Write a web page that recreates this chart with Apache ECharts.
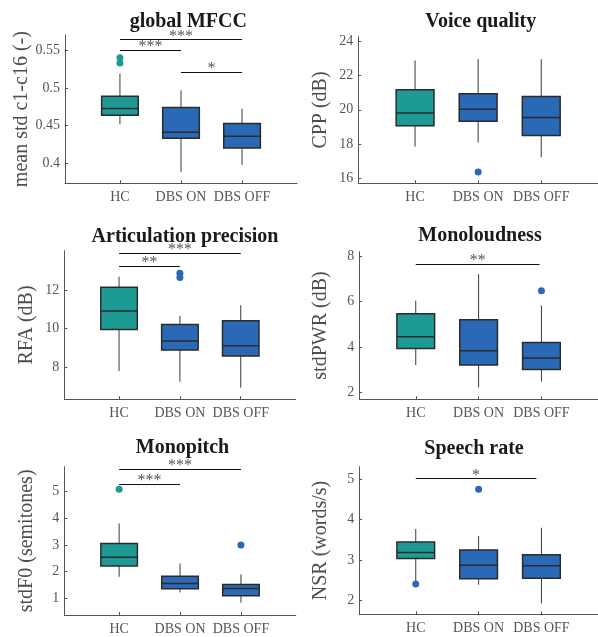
<!DOCTYPE html>
<html>
<head>
<meta charset="utf-8">
<script src="https://cdn.jsdelivr.net/npm/echarts@6/dist/echarts.min.js"></script>
<style>html,body{margin:0;padding:0;background:#fff}#c{width:598px;height:637px}</style>
</head>
<body>
<div id="c"></div>
<script>
// ---- data ----
const categories = ['HC', 'DBS ON', 'DBS OFF'];
const categoryPositions = [1, 2, 3];

// box stats: [lowerWhisker, Q1, median, Q3, upperWhisker]
const mfccBox = [[0.4517, 0.4636, 0.4725, 0.4890, 0.5188], [0.3886, 0.4332, 0.4411, 0.4738, 0.4967], [0.3978, 0.4204, 0.4358, 0.4526, 0.4725]];
const mfccOutliers = [[1, 0.5328, 0], [1, 0.5399, 0]];
const mfccSig = [[1, 2, 0.5500, '***'], [1, 3, 0.5642, '***'], [2, 3, 0.5206, '*']];
const mfccTicks = [0.4, 0.45, 0.5, 0.55];

const cppBox = [[17.87, 19.07, 19.81, 21.16, 22.87], [18.10, 19.34, 20.04, 20.93, 22.95], [17.25, 18.51, 19.55, 20.77, 22.95]];
const cppOutliers = [[2, 16.39, 1]];
const cppSig = [];
const cppTicks = [16, 18, 20, 22, 24];

const rfaBox = [[7.81, 9.96, 10.91, 12.14, 12.69], [7.26, 8.90, 9.36, 10.21, 10.66], [6.95, 8.59, 9.12, 10.41, 11.21]];
const rfaOutliers = [[2, 12.86, 1], [2, 12.65, 1]];
const rfaSig = [[1, 2, 13.24, '**'], [1, 3, 13.90, '***']];
const rfaTicks = [8, 10, 12];

const pwrBox = [[3.20, 3.93, 4.44, 5.46, 6.03], [2.22, 3.20, 3.83, 5.19, 7.20], [2.47, 3.00, 3.51, 4.19, 5.82]];
const pwrOutliers = [[3, 6.47, 1]];
const pwrSig = [[1, 2.97, 7.65, '**']];
const pwrTicks = [2, 4, 6, 8];

const f0Box = [[1.81, 2.21, 2.54, 3.06, 3.81], [1.22, 1.36, 1.56, 1.83, 2.31], [0.84, 1.10, 1.37, 1.52, 1.90]];
const f0Outliers = [[1, 5.09, 0], [3, 3.00, 1]];
const f0Sig = [[1, 2, 5.28, '***'], [1, 3, 5.85, '***']];
const f0Ticks = [1, 2, 3, 4, 5];

const nsrBox = [[2.47, 3.04, 3.19, 3.45, 3.77], [2.39, 2.54, 2.87, 3.25, 3.60], [1.93, 2.55, 2.86, 3.13, 3.80]];
const nsrOutliers = [[1, 2.41, 1], [2, 4.75, 1]];
const nsrSig = [[1, 2.92, 5.02, '*']];
const nsrTicks = [2, 3, 4, 5];

const titles = ['global MFCC', 'Voice quality', 'Articulation precision', 'Monoloudness', 'Monopitch', 'Speech rate'];
const yNames = ['mean std c1-c16 (-)', 'CPP (dB)', 'RFA (dB)', 'stdPWR (dB)', 'stdF0 (semitones)', 'NSR (words/s)'];
const yRanges = [[0.3735, 0.57], [15.73, 24.25], [6.35, 14.03], [1.69, 8.19], [0.374, 5.94], [1.66, 5.31]];

// ---- layout / style ----
const layouts = [
  {left: 65,    top: 35,    width: 232,   height: 148.3, tx: 188.3, ty: 11.5},
  {left: 358.3, top: 36.7,  width: 240.5, height: 146.6, tx: 480.8, ty: 11.5},
  {left: 64.3,  top: 250.7, width: 231.2, height: 148.6, tx: 185,   ty: 226.5},
  {left: 359.2, top: 251.7, width: 240,   height: 147.6, tx: 480,   ty: 226},
  {left: 64.3,  top: 466.7, width: 231.5, height: 148.3, tx: 182.5, ty: 438.2},
  {left: 359.2, top: 466.7, width: 240,   height: 147.6, tx: 474,   ty: 439.2}
];
const TEAL = '#1e9a94';
const BLUE = '#2a69b6';
const groupColors = [TEAL, BLUE, BLUE];
const outlierColors = [TEAL, BLUE];
const FONT = 'Liberation Serif, Times New Roman, serif';

const panels = [
  {box: mfccBox, out: mfccOutliers, sig: mfccSig, ticks: mfccTicks},
  {box: cppBox, out: cppOutliers, sig: cppSig, ticks: cppTicks},
  {box: rfaBox, out: rfaOutliers, sig: rfaSig, ticks: rfaTicks},
  {box: pwrBox, out: pwrOutliers, sig: pwrSig, ticks: pwrTicks},
  {box: f0Box, out: f0Outliers, sig: f0Sig, ticks: f0Ticks},
  {box: nsrBox, out: nsrOutliers, sig: nsrSig, ticks: nsrTicks}
];

const grid = [], xAxis = [], yAxis = [], series = [], graphic = [];
panels.forEach((p, i) => {
  const L = layouts[i];
  grid.push({left: L.left, top: L.top, width: L.width, height: L.height, containLabel: false});
  xAxis.push({
    type: 'value', gridIndex: i, min: 0.1, max: 3.9,
    axisLine: {show: true, lineStyle: {color: '#555', width: 1}},
    axisTick: {show: true, inside: true, length: 3, customValues: categoryPositions, lineStyle: {color: '#555'}},
    axisLabel: {show: true, customValues: categoryPositions, margin: 7,
      formatter: v => categories[Math.round(v) - 1] || '',
      fontFamily: FONT, fontSize: 14, color: '#555'},
    splitLine: {show: false}
  });
  yAxis.push({
    type: 'value', gridIndex: i, min: yRanges[i][0], max: yRanges[i][1],
    name: yNames[i], nameLocation: 'middle', nameRotate: 90, nameGap: 28,
    nameTextStyle: {fontFamily: FONT, fontSize: 20, color: '#4d4d4d'},
    axisLine: {show: true, lineStyle: {color: '#555', width: 1}},
    axisTick: {show: true, inside: true, length: 3, customValues: p.ticks, lineStyle: {color: '#555'}},
    axisLabel: {show: true, customValues: p.ticks, margin: 5,
      fontFamily: FONT, fontSize: 14, color: '#555'},
    splitLine: {show: false}
  });
  series.push({
    type: 'custom', xAxisIndex: i, yAxisIndex: i, silent: true,
    data: p.box.map((b, k) => [categoryPositions[k]].concat(b)),
    encode: {x: 0, y: [1, 2, 3, 4, 5]},
    renderItem: (params, api) => {
      const x = api.value(0);
      const pMin = api.coord([x, api.value(1)]);
      const pQ1 = api.coord([x, api.value(2)]);
      const pMed = api.coord([x, api.value(3)]);
      const pQ3 = api.coord([x, api.value(4)]);
      const pMax = api.coord([x, api.value(5)]);
      const w = api.size([0.6, 0])[0];
      const cx = pMed[0];
      const color = groupColors[params.dataIndex];
      return {type: 'group', children: [
        {type: 'line', shape: {x1: cx, y1: pMax[1], x2: cx, y2: pQ3[1]}, style: {stroke: '#3a3a3a', lineWidth: 1}},
        {type: 'line', shape: {x1: cx, y1: pQ1[1], x2: cx, y2: pMin[1]}, style: {stroke: '#3a3a3a', lineWidth: 1}},
        {type: 'rect', shape: {x: cx - w / 2, y: pQ3[1], width: w, height: pQ1[1] - pQ3[1]},
          style: {fill: color, stroke: '#2b2b2b', lineWidth: 1.5}},
        {type: 'line', shape: {x1: cx - w / 2, y1: pMed[1], x2: cx + w / 2, y2: pMed[1]},
          style: {stroke: '#2b2b2b', lineWidth: 1.5}}
      ]};
    }
  });
  series.push({
    type: 'scatter', xAxisIndex: i, yAxisIndex: i, silent: true,
    symbolSize: 7, data: p.out,
    itemStyle: {color: params => outlierColors[params.value[2]], opacity: 1},
    markLine: {
      silent: true, symbol: ['none', 'none'], animation: false,
      lineStyle: {color: '#111', width: 1, type: 'solid'},
      label: {show: true, position: 'middle', formatter: '{b}', distance: -5,
        fontFamily: FONT, fontSize: 16, color: '#555'},
      emphasis: {disabled: true},
      data: p.sig.map(s => [{name: s[3], coord: [s[0], s[2]]}, {coord: [s[1], s[2]]}])
    }
  });
  graphic.push({
    type: 'text', silent: true,
    x: L.tx, y: L.ty,
    style: {text: titles[i], fill: '#1a1a1a', font: 'bold 20px ' + FONT,
      textAlign: 'center', textVerticalAlign: 'top', align: 'center', verticalAlign: 'top'}
  });
});

const chart = echarts.init(document.getElementById('c'), null, {renderer: 'canvas'});
chart.setOption({
  animation: false,
  backgroundColor: '#fff',
  grid, xAxis, yAxis, series, graphic
});
</script>
</body>
</html>
